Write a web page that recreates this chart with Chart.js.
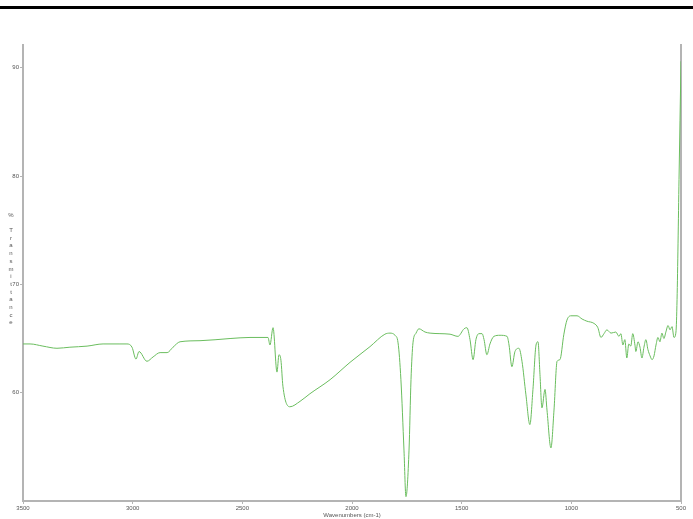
<!DOCTYPE html>
<html>
<head>
<meta charset="utf-8">
<script src="https://cdn.jsdelivr.net/npm/chart.js@4/dist/chart.umd.min.js"></script>
<style>
  html, body { margin: 0; padding: 0; background: #fff; overflow: hidden; }
  #wrap { position: relative; width: 693px; height: 519px; }
  #rule { position: absolute; left: 0; top: 6px; width: 693px; height: 3px; background: #000; }
</style>
</head>
<body>
<div id="wrap">
  <div id="rule"></div>
  <canvas id="ir" width="693" height="519"></canvas>
</div>
<script>
// IR spectrum
let wavenumbers = [3500,3468,3409,3345,3286,3208,3135,3058,3026,3003,2985,2971,2935,2907,2875,2843,2816,2784,2693,2556,2465,2383,2374,2360,2342,2333,2324,2315,2283,2237,2192,2100,2009,1918,1850,1827,1804,1790,1777,1763,1754,1740,1731,1722,1708,1695,1667,1644,1599,1553,1517,1489,1476,1462,1448,1435,1421,1407,1398,1385,1371,1353,1325,1293,1284,1271,1257,1239,1225,1207,1189,1175,1161,1152,1143,1134,1120,1111,1093,1079,1065,1052,1034,1020,1002,974,951,929,897,879,865,851,838,819,797,783,774,765,756,747,738,729,720,710,706,696,687,678,669,660,651,641,632,623,614,605,596,587,578,569,559,550,541,532,523,518,509,500];
let transmittance = [64.5,64.5,64.3,64.1,64.2,64.3,64.5,64.5,64.5,64.2,63.1,63.8,62.9,63.3,63.7,63.7,64.2,64.7,64.8,65.0,65.1,65.1,64.4,66.0,61.9,63.5,63.0,60.6,58.7,59.2,59.9,61.2,62.8,64.25,65.4,65.5,65.3,64.6,61.2,54.7,50.4,54.7,61.2,64.6,65.5,65.9,65.6,65.5,65.45,65.4,65.2,65.9,66.0,64.9,63.05,64.9,65.45,65.45,64.9,63.5,64.5,65.2,65.3,65.2,64.4,62.4,63.8,64.1,62.9,59.8,57.05,60.3,64.4,64.7,61.7,58.6,60.3,58.4,54.9,58.4,62.9,63.05,65.4,66.7,67.1,67.1,66.8,66.6,66.4,66.0,65.1,65.45,65.8,65.5,65.6,65.2,65.45,64.4,64.9,63.2,64.5,64.3,65.45,64.4,63.8,64.7,64.2,63.2,64.2,64.9,64.0,63.4,63.05,63.4,64.4,65.1,64.7,65.5,65.0,65.6,66.2,65.8,66.1,65.1,65.6,68.6,79.7,90.6];
let xTicks = [3500,3000,2500,2000,1500,1000,500];
let yTicks = [60,70,80,90];
let yTitle = "% Transmittance";
let xTitle = "Wavenumbers (cm-1)";

let axisGrey = '#b4b4b4';
let labelFont = { family: 'Liberation Sans', size: 6 };

// stacked letters of the y title, one under the other
let stackedTitle = {
    id: 'stackedTitle',
    afterDraw(chart){
        let c = chart.ctx;
        c.save();
        c.font = '6px "Liberation Sans"';
        c.fillStyle = '#555';
        c.textAlign = 'center';
        c.textBaseline = 'middle';
        for(let i = 0; i < yTitle.length; i++){
            c.fillText(yTitle[i], 11, 215 + i * 7.7);
        }
        c.restore();
    }
};

let ctx = document.getElementById('ir').getContext('2d');

let grafico = new Chart(ctx, {
    type: 'line',
    data: {
        datasets: [{
            label: 'Spectrum',
            data: wavenumbers.map((w, i) => ({ x: w, y: transmittance[i] })),
            borderColor: '#6abd5e',
            borderWidth: 1,
            pointRadius: 0,
            cubicInterpolationMode: 'monotone',
            fill: false
        }]
    },
    options: {
        responsive: false,
        animation: false,
        events: [],
        layout: { padding: { top: 45, left: 0, right: 0, bottom: 0 } },
        plugins: { legend: { display: false }, tooltip: { enabled: false } },
        scales: {
            x: {
                type: 'linear',
                reverse: true,
                min: 500,
                max: 3500,
                afterBuildTicks: (s) => { s.ticks = xTicks.map(v => ({ value: v })); },
                afterFit: (s) => { s.height = 18; },
                ticks: { font: labelFont, color: '#555', padding: 1, maxRotation: 0, callback: (v) => String(v) },
                grid: { drawOnChartArea: false, tickLength: 3, color: axisGrey },
                border: { color: axisGrey, width: 2 },
                title: { display: true, text: xTitle, font: labelFont, color: '#555', padding: 0 }
            },
            y: {
                min: 50,
                max: 92.1,
                afterBuildTicks: (s) => { s.ticks = yTicks.map(v => ({ value: v })); },
                afterFit: (s) => { s.width = 23; },
                ticks: { font: labelFont, color: '#555', padding: 1, callback: (v) => String(v) },
                grid: { drawOnChartArea: false, tickLength: 3, color: axisGrey },
                border: { color: axisGrey, width: 2 }
            },
            y2: {
                position: 'right',
                display: true,
                min: 50,
                max: 92.1,
                afterFit: (s) => { s.width = 12; },
                ticks: { display: false },
                grid: { drawOnChartArea: false, drawTicks: false },
                border: { color: axisGrey, width: 2 }
            }
        }
    },
    plugins: [stackedTitle]
});
</script>
</body>
</html>
